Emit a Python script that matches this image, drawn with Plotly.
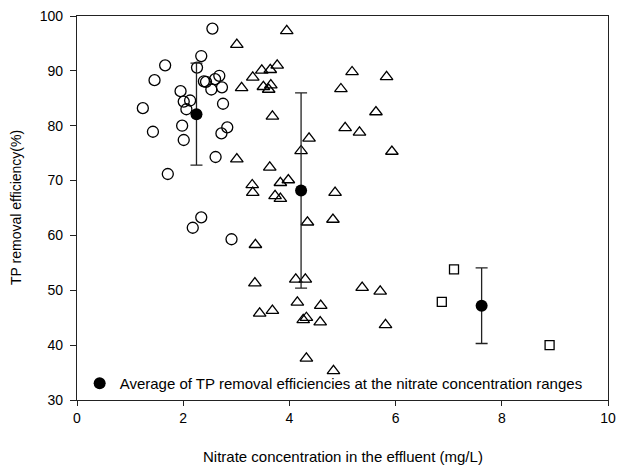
import plotly.graph_objects as go

# Low nitrate range (circles)
circ_x = [2.55, 2.34, 1.66, 2.26, 1.46, 2.39, 2.43, 2.60, 2.68, 2.53, 2.73, 1.95, 2.01, 2.13,
          2.06, 1.24, 2.75, 1.98, 2.83, 2.72, 1.43, 2.01, 2.61, 1.71, 2.34, 2.18, 2.91]
circ_y = [97.7, 92.7, 91.0, 90.6, 88.3, 88.1, 88.0, 88.5, 89.1, 86.6, 87.0, 86.3, 84.4, 84.6,
          83.0, 83.2, 84.0, 80.0, 79.7, 78.6, 78.9, 77.4, 74.3, 71.2, 63.3, 61.4, 59.3]

# Middle nitrate range (triangles)
tri_x = [3.95, 3.01, 3.77, 3.48, 3.64, 3.31, 5.18, 5.83, 3.10, 3.51, 3.65, 3.61, 4.97, 5.63,
         3.68, 5.05, 5.32, 4.37, 4.22, 5.93, 3.01, 3.63, 3.30, 3.31, 3.83, 3.98, 3.73, 3.83,
         4.86, 4.34, 4.82, 3.36, 3.35, 4.12, 4.30, 5.37, 5.71, 3.44, 3.68, 4.15, 4.59, 4.26,
         4.32, 4.58, 5.81, 4.32, 4.83]
tri_y = [97.3, 94.8, 91.0, 90.1, 90.2, 88.8, 89.8, 88.9, 86.9, 87.1, 87.4, 86.6, 86.7, 82.5,
         81.7, 79.6, 78.8, 77.7, 75.4, 75.3, 73.9, 72.4, 69.2, 67.8, 69.6, 70.1, 67.2, 66.7,
         67.8, 62.4, 62.9, 58.3, 51.3, 52.0, 52.0, 50.5, 49.8, 45.8, 46.3, 47.8, 47.2, 44.6,
         45.0, 44.2, 43.7, 37.6, 35.3]

# High nitrate range (squares)
sq_x = [7.10, 6.87, 8.90]
sq_y = [53.8, 47.9, 40.0]

# Averages with error bars
avg_x = [2.25, 4.22, 7.62]
avg_y = [82.1, 68.2, 47.2]
avg_err = [9.3, 17.8, 6.9]

x_title = "Nitrate concentration in the effluent (mg/L)"
y_title = "TP removal efficiency(%)"

line_col = "#222222"
fig = go.Figure()
fig.add_trace(go.Scatter(x=circ_x, y=circ_y, mode="markers", showlegend=False,
                         marker=dict(symbol="circle-open", size=11, color="black",
                                     line=dict(width=1.3, color="black"))))
fig.add_trace(go.Scatter(x=tri_x, y=tri_y, mode="markers", showlegend=False,
                         marker=dict(symbol="triangle-up-open", size=11, color="black",
                                     line=dict(width=1.3, color="black"))))
fig.add_trace(go.Scatter(x=sq_x, y=sq_y, mode="markers", showlegend=False,
                         marker=dict(symbol="square-open", size=9, color="black",
                                     line=dict(width=1.3, color="black"))))
fig.add_trace(go.Scatter(x=avg_x, y=avg_y, mode="markers",
                         name="Average of TP removal efficiencies at the nitrate concentration ranges",
                         marker=dict(symbol="circle", size=12, color="black"),
                         error_y=dict(type="data", array=avg_err, visible=True,
                                      color=line_col, thickness=1.3, width=6)))

fig.update_layout(
    width=617, height=467,
    margin=dict(l=77, r=9, t=16, b=67),
    paper_bgcolor="white", plot_bgcolor="white",
    font=dict(family="Liberation Sans, Arial, sans-serif", size=14, color="black"),
    legend=dict(x=0.005, y=0.0, xanchor="left", yanchor="bottom",
                bgcolor="rgba(0,0,0,0)", font=dict(size=15), itemwidth=30),
    xaxis=dict(range=[0, 10], dtick=2, tick0=0, showgrid=False, zeroline=False,
               showline=True, linecolor=line_col, linewidth=1.3, mirror=True,
               ticks="outside", ticklen=5, tickcolor=line_col, automargin=False,
               tickfont=dict(size=14)),
    yaxis=dict(range=[30, 100], dtick=10, tick0=30, showgrid=False, zeroline=False,
               showline=True, linecolor=line_col, linewidth=1.3, mirror=True,
               ticks="outside", ticklen=6, tickcolor=line_col, automargin=False,
               ticklabelstandoff=4, tickfont=dict(size=14)),
    annotations=[
        dict(text=x_title, xref="paper", yref="paper", x=0.5, y=0, yshift=-56,
             xanchor="center", yanchor="middle", showarrow=False, font=dict(size=15)),
        dict(text=y_title, xref="paper", yref="paper", x=0, y=0.5, xshift=-61,
             xanchor="center", yanchor="middle", textangle=-90, showarrow=False,
             font=dict(size=14)),
    ],
)

fig.write_html("out.html")
